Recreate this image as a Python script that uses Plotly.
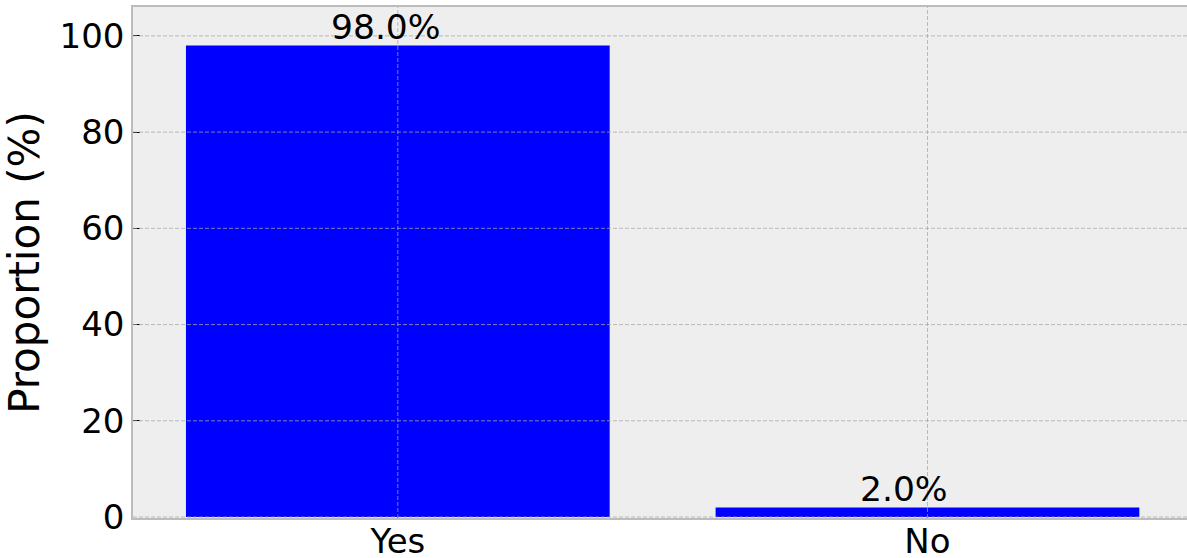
import plotly.graph_objects as go

categories = ["Yes", "No"]
proportions = [98.0, 2.0]
y_ticks = [0, 20, 40, 60, 80, 100]
bar_labels = [f"{v:.1f}%" for v in proportions]

FONT = "DejaVu Sans"
GRID = "rgba(165,165,165,0.75)"

fig = go.Figure()
fig.add_trace(go.Bar(
    x=categories, y=proportions, width=0.8,
    marker=dict(color="#0000ff", line=dict(width=0)),
    hoverinfo="skip",
))

for cat, v, lab in zip(categories, proportions, bar_labels):
    fig.add_annotation(x=cat, y=v, text=lab, showarrow=False,
                       xanchor="left", xshift=-69, yanchor="bottom", yshift=-4,
                       font=dict(family=FONT, size=34.5, color="black"))

shapes = []
for t in y_ticks:
    shapes.append(dict(type="line", xref="paper", yref="y", x0=0, x1=1, y0=t, y1=t,
                       line=dict(color=GRID, width=1, dash="4px,2px"), layer="above"))
for cat in categories:
    shapes.append(dict(type="line", xref="x", yref="paper", x0=cat, x1=cat, y0=0, y1=1,
                       line=dict(color=GRID, width=1, dash="4px,2px"), layer="above"))

fig.update_layout(
    width=1187, height=558,
    margin=dict(l=133, r=0, t=7, b=40),
    paper_bgcolor="white", plot_bgcolor="#eeeeee",
    showlegend=False,
    shapes=shapes,
    font=dict(family=FONT, size=34, color="black"),
    xaxis=dict(
        type="category", range=[-0.5, 1.49], automargin=False,
        showgrid=False, zeroline=False,
        showline=True, mirror=True, linecolor="#bcbcbc", linewidth=1.5,
        ticks="inside", ticklen=7, tickwidth=1, tickcolor="black",
        tickfont=dict(family=FONT, size=34, color="black"),
        ticklabelstandoff=-8,
    ),
    yaxis=dict(
        range=[-0.2, 106], tickvals=y_ticks, automargin=False,
        showgrid=False, zeroline=False,
        showline=True, mirror=False, linecolor="#bcbcbc", linewidth=1.5,
        ticks="inside", ticklen=7, tickwidth=1, tickcolor="black",
        tickfont=dict(family=FONT, size=34, color="black"),
        ticklabelstandoff=0,
        title=dict(text="Proportion (%)", font=dict(family=FONT, size=42, color="black"), standoff=10),
    ),
)

fig.write_html("out.html")
